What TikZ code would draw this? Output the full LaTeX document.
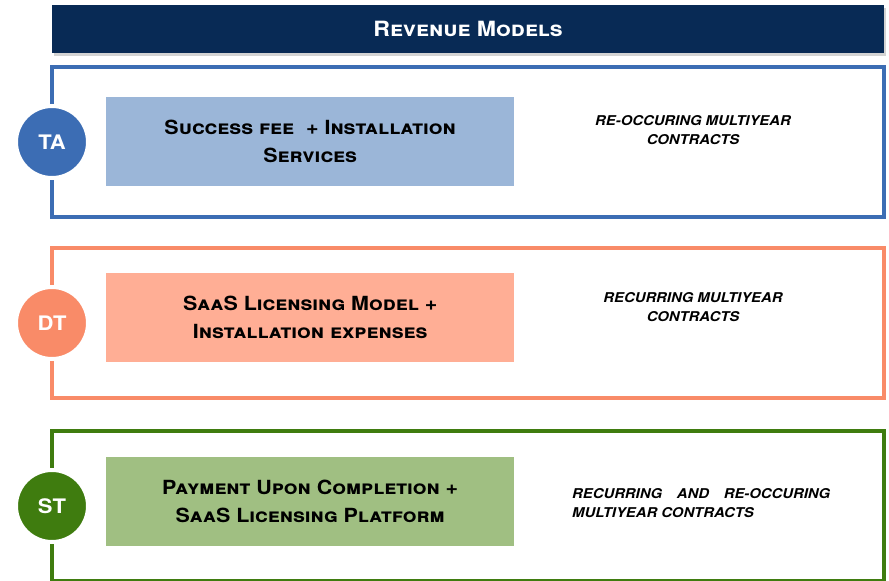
\documentclass[tikz,border=0pt]{standalone}
\usepackage{fontspec}
\setmainfont{TeX Gyre Heros}[FakeStretch=1.1]
\usetikzlibrary{positioning,shadows}

\definecolor{titlenavy}{HTML}{082A55}
\definecolor{taframe}{HTML}{3C6DB4}
\definecolor{tabox}{HTML}{9BB6D8}
\definecolor{dtframe}{HTML}{F98B68}
\definecolor{dtbox}{HTML}{FFAE95}
\definecolor{stframe}{HTML}{3F7C0F}
\definecolor{stbox}{HTML}{A0BF82}

\tikzset{
  titlebar/.style={fill=titlenavy, text=white, minimum width=832pt, minimum height=48pt,
    inner sep=0pt, font=\fontsize{21}{24}\selectfont\bfseries,
    drop shadow={opacity=0.35, shadow xshift=2pt, shadow yshift=-3pt}},
  panel/.style={draw, line width=4pt, fill=white, minimum width=832pt, minimum height=150pt, inner sep=0pt},
  tagdot/.style={circle, draw=white, line width=4pt, minimum size=72pt, inner sep=0pt,
    text=white, font=\fontsize{20}{22}\selectfont\bfseries},
  modelbox/.style={minimum width=408pt, minimum height=89pt, inner sep=0pt, align=center,
    font=\fontsize{19.5}{28}\selectfont\bfseries},
  contract/.style={align=center, inner sep=0pt, font=\fontsize{13.5}{19}\selectfont\bfseries\itshape}
}

\begin{document}
\begin{tikzpicture}[x=1pt, y=-1pt]
    \useasboundingbox (0,0) rectangle (889,581);
    % Title
    \node[titlebar] (title) at (468,29) {\textsc{Revenue Models}};
    % Panels with tag circles
    \foreach \lbl/\ytop/\clr in {TA/67/ta, DT/248/dt, ST/431/st} {
        \node[panel, draw=\clr frame] (frame\lbl) at (468,\ytop+75) {};
        \node[tagdot, fill=\clr frame] (tag\lbl) at ([xshift=2pt]frame\lbl.west) {\lbl};
    }
    % Model boxes
    \node[modelbox, fill=tabox, anchor=west] (boxTA) at ([xshift=56pt, yshift=1pt]frameTA.west)
        {\textsc{Success fee~ + Installation}\\\textsc{Services}};
    \node[modelbox, fill=dtbox, anchor=west] (boxDT) at ([xshift=56pt, yshift=5.5pt]frameDT.west)
        {\textsc{SaaS Licensing Model +}\\\textsc{Installation expenses}};
    \node[modelbox, fill=stbox, anchor=west] (boxST) at ([xshift=56pt, yshift=5pt]frameST.west)
        {\textsc{Payment Upon Completion +}\\\textsc{SaaS Licensing Platform}};
    % Contract types
    \node[contract] (termTA) at (693,130.5) {RE-OCCURING MULTIYEAR\\CONTRACTS};
    \node[contract] (termDT) at (693,307.5) {RECURRING MULTIYEAR\\CONTRACTS};
    \node[contract, align=left, anchor=west] (termST) at (572,503.5)
        {\makebox[258pt][s]{RECURRING AND RE-OCCURING}\\MULTIYEAR CONTRACTS};
\end{tikzpicture}
\end{document}
